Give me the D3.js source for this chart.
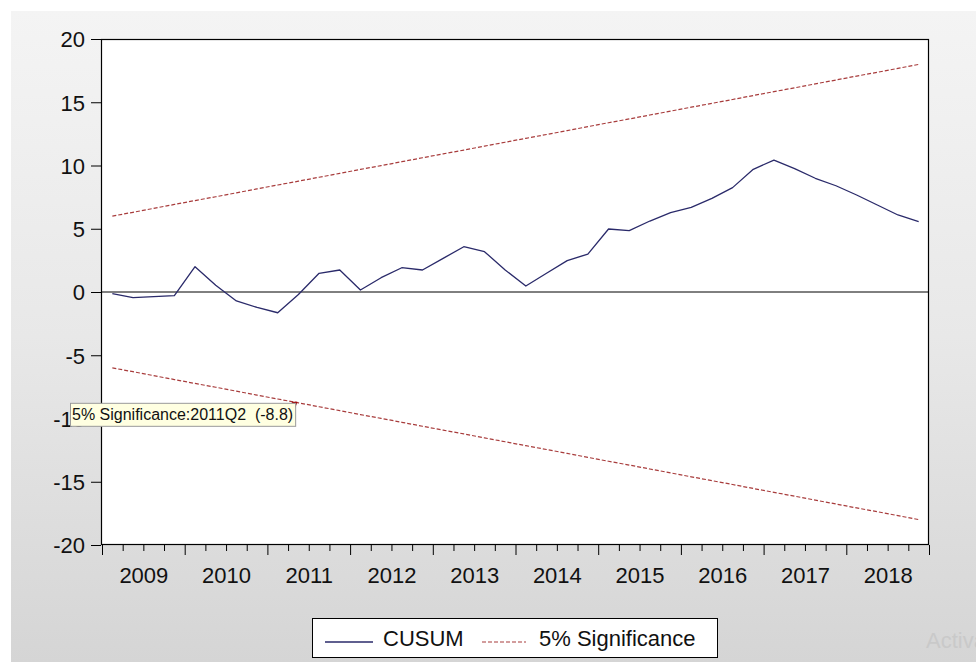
<!DOCTYPE html>
<html>
<head>
<meta charset="utf-8">
<script src="https://cdn.jsdelivr.net/npm/d3@7"></script>
<style>
  html, body { margin: 0; padding: 0; background: #ffffff; }
  svg { display: block; }
  text { font-family: "Liberation Sans", Arial, sans-serif; }
</style>
</head>
<body>
<svg id="chart" width="976" height="662"></svg>
<script>
// Sample years (quarterly observations 2009Q1 .. 2018Q4)
const years = [2009, 2010, 2011, 2012, 2013, 2014, 2015, 2016, 2017, 2018];
const quarterNames = ["Q1", "Q2", "Q3", "Q4"];

// CUSUM of recursive residuals
const cusum = [
  -0.13, -0.45, -0.37, -0.29, 2.00, 0.53, -0.71, -1.22, -1.64, -0.20,
   1.48,  1.74,  0.16,  1.13, 1.92, 1.74,  2.66,  3.58,  3.19,  1.74,
   0.47,  1.48,  2.48,  3.00, 4.98, 4.85,  5.61,  6.27,  6.69,  7.40,
   8.25,  9.70, 10.43,  9.75, 8.99, 8.40,  7.67,  6.88,  6.09,  5.56
];

// 5% significance bounds
const upperBound = [
   6.00,  6.30,  6.61,  6.92,  7.23,  7.53,  7.84,  8.15,  8.46,  8.76,
   9.07,  9.38,  9.69,  9.99, 10.30, 10.61, 10.92, 11.22, 11.53, 11.84,
  12.15, 12.45, 12.76, 13.07, 13.38, 13.68, 13.99, 14.30, 14.61, 14.91,
  15.22, 15.53, 15.84, 16.14, 16.45, 16.76, 17.07, 17.37, 17.68, 17.99
];
const lowerBound = [
   -6.00,  -6.30,  -6.61,  -6.92,  -7.23,  -7.53,  -7.84,  -8.15,  -8.46,  -8.76,
   -9.07,  -9.38,  -9.69,  -9.99, -10.30, -10.61, -10.92, -11.22, -11.53, -11.84,
  -12.15, -12.45, -12.76, -13.07, -13.38, -13.68, -13.99, -14.30, -14.61, -14.91,
  -15.22, -15.53, -15.84, -16.14, -16.45, -16.76, -17.07, -17.37, -17.68, -17.99
];

const yTicks = [-20, -15, -10, -5, 0, 5, 10, 15, 20];

// Hover readout shown on the lower bound
const tipIndex = 9;
const tipSeries = "5% Significance";

const quarters = years.flatMap(y => quarterNames.map(q => y + q));

const svg = d3.select("#chart");
const W = 976, H = 662;
const plot = { left: 101, right: 929, top: 39, bottom: 545 };
const FONT = "22px";

// Window background
const defs = svg.append("defs");
const grad = defs.append("linearGradient")
  .attr("id", "bg").attr("x1", 0).attr("y1", 0).attr("x2", 0).attr("y2", 1);
grad.append("stop").attr("offset", "0%").attr("stop-color", "#f4f4f4");
grad.append("stop").attr("offset", "50%").attr("stop-color", "#e8e8e8");
grad.append("stop").attr("offset", "100%").attr("stop-color", "#d5d5d5");

svg.append("rect").attr("x", 0).attr("y", 0).attr("width", W).attr("height", H).attr("fill", "#ffffff");
svg.append("rect").attr("x", 11).attr("y", 11).attr("width", W - 11).attr("height", H - 11)
  .attr("fill", "url(#bg)");

// Scales
const x = d3.scaleLinear().domain([-0.5, quarters.length - 0.5]).range([102, plot.right]);
const y = d3.scaleLinear().domain([-20, 20]).range([plot.bottom, plot.top]);

// Plot area
svg.append("rect")
  .attr("x", plot.left).attr("y", plot.top)
  .attr("width", plot.right - plot.left).attr("height", plot.bottom - plot.top)
  .attr("fill", "#ffffff");

// Y axis (plain hyphen for negatives)
const yAxis = svg.append("g")
  .attr("transform", `translate(${plot.left},0)`)
  .call(d3.axisLeft(y).tickValues(yTicks).tickSize(10).tickPadding(6).tickFormat(d => String(d)));
yAxis.select(".domain").remove();
yAxis.selectAll("line").attr("stroke", "#000").attr("stroke-width", 1);
yAxis.selectAll("text").style("font-size", FONT).attr("fill", "#111").attr("dy", "0.36em");

// X axis: year boundaries, quarter ticks, year labels
const yearEdges = d3.range(0, years.length + 1).map(k => k * 4 - 0.5);
const quarterEdges = d3.range(0, quarters.length + 1).map(i => i - 0.5).filter(v => !yearEdges.includes(v));
const yearCenters = years.map((yr, k) => k * 4 + 1.5);

const xMajor = svg.append("g").attr("transform", `translate(0,${plot.bottom})`)
  .call(d3.axisBottom(x).tickValues(yearEdges).tickSize(10).tickFormat(""));
xMajor.select(".domain").remove();
xMajor.selectAll("line").attr("stroke", "#000");

const xMinor = svg.append("g").attr("transform", `translate(0,${plot.bottom})`)
  .call(d3.axisBottom(x).tickValues(quarterEdges).tickSize(6).tickFormat(""));
xMinor.select(".domain").remove();
xMinor.selectAll("line").attr("stroke", "#000");

const xLabels = svg.append("g").attr("transform", `translate(0,${plot.bottom})`)
  .call(d3.axisBottom(x).tickValues(yearCenters).tickSize(0).tickFormat((d, i) => years[i]));
xLabels.select(".domain").remove();
xLabels.selectAll("text").style("font-size", FONT).attr("fill", "#111")
  .attr("y", 38).attr("dy", 0);

// Zero line
svg.append("line")
  .attr("x1", plot.left).attr("x2", plot.right)
  .attr("y1", y(0)).attr("y2", y(0))
  .attr("stroke", "#000").attr("stroke-width", 1);

// Series
const line = d3.line().x((d, i) => x(i)).y(d => y(d));
const RED = "#a83c3c";
const NAVY = "#2a2a6a";

svg.append("path").datum(upperBound).attr("d", line)
  .attr("fill", "none").attr("stroke", RED).attr("stroke-width", 1.2).attr("stroke-dasharray", "4,2");
svg.append("path").datum(lowerBound).attr("d", line)
  .attr("fill", "none").attr("stroke", RED).attr("stroke-width", 1.2).attr("stroke-dasharray", "4,2");
svg.append("path").datum(cusum).attr("d", line)
  .attr("fill", "none").attr("stroke", NAVY).attr("stroke-width", 1.3).attr("stroke-linejoin", "round");

// Frame
svg.append("rect")
  .attr("x", plot.left + 0.5).attr("y", plot.top + 0.5)
  .attr("width", plot.right - plot.left - 1).attr("height", plot.bottom - plot.top - 1)
  .attr("fill", "none").attr("stroke", "#000").attr("stroke-width", 1.2);

// Hover readout
const tipX = x(tipIndex), tipY = y(lowerBound[tipIndex]);
svg.append("polygon")
  .attr("points", `${tipX - 7},${tipY - 1} ${tipX - 1},${tipY - 1} ${tipX - 3},${tipY + 5}`)
  .attr("fill", "#a00000");
const tipG = svg.append("g").attr("transform", `translate(70,${tipY + 0.5})`);
const tipText = `${tipSeries}:${quarters[tipIndex]}  (${lowerBound[tipIndex].toFixed(1)})`;
const tipT = tipG.append("text")
  .attr("x", 2).attr("y", 17)
  .style("font-size", "16px").style("white-space", "pre")
  .attr("fill", "#111")
  .text(tipText);
const tw = tipT.node().getComputedTextLength();
tipG.insert("rect", "text")
  .attr("x", 0.5).attr("y", 0).attr("width", tw + 4).attr("height", 23)
  .attr("fill", "#ffffe1").attr("stroke", "#9a9a9a").attr("stroke-width", 1);

// Legend
const lg = svg.append("g");
lg.append("rect").attr("x", 312.5).attr("y", 618.5).attr("width", 405).attr("height", 39)
  .attr("fill", "#ffffff").attr("stroke", "#000").attr("stroke-width", 1);
lg.append("line").attr("x1", 325).attr("x2", 373).attr("y1", 642).attr("y2", 642)
  .attr("stroke", NAVY).attr("stroke-width", 1.3);
lg.append("text").attr("x", 383).attr("y", 646).style("font-size", FONT).attr("fill", "#111").text("CUSUM");
lg.append("line").attr("x1", 482).attr("x2", 526).attr("y1", 642).attr("y2", 642)
  .attr("stroke", RED).attr("stroke-width", 1.2).attr("stroke-dasharray", "4,2");
lg.append("text").attr("x", 539).attr("y", 646).style("font-size", FONT).attr("fill", "#111").text(tipSeries);

// Desktop overlay text
svg.append("text").attr("x", 926).attr("y", 648).style("font-size", FONT).attr("fill", "#c9c9c9").text("Activate Windows");
svg.append("text").attr("x", 926).attr("y", 674).style("font-size", "16px").attr("fill", "#c9c9c9").text("Go to Settings to activate Windows.");
</script>
</body>
</html>
